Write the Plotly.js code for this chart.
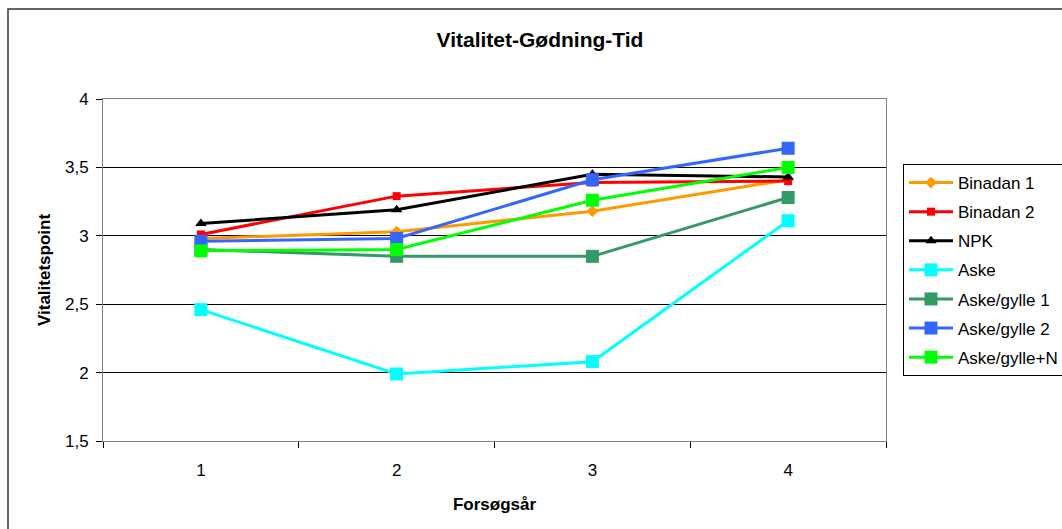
<!DOCTYPE html>
<html>
<head>
<meta charset="utf-8">
<script src="https://cdn.plot.ly/plotly-3.0.1.min.js"></script>
<style>
  html, body { margin: 0; padding: 0; background: #fff; }
  #chart { width: 1062px; height: 529px; }
</style>
</head>
<body>
<div id="chart"></div>
<script>
// Forsøgsår (trial years) on the category axis
const years = [1, 2, 3, 4];

// Vitalitetspoint per treatment
const binadan1 = [2.98, 3.03, 3.18, 3.41];
const binadan2 = [3.01, 3.29, 3.39, 3.40];
const npk = [3.09, 3.19, 3.45, 3.43];
const aske = [2.46, 1.99, 2.08, 3.11];
const askeGylle1 = [2.90, 2.85, 2.85, 3.28];
const askeGylle2 = [2.96, 2.98, 3.41, 3.64];
const askeGylleN = [2.89, 2.90, 3.26, 3.50];

const seriesNames = ['Binadan 1', 'Binadan 2', 'NPK', 'Aske', 'Aske/gylle 1', 'Aske/gylle 2', 'Aske/gylle+N'];
const yTickVals = [1.5, 2, 2.5, 3, 3.5, 4];
const yTickText = ['1,5', '2', '2,5', '3', '3,5', '4'];

const styles = [
  { color: '#FF9900', symbol: 'diamond', size: 9 },
  { color: '#FF0000', symbol: 'square', size: 8 },
  { color: '#000000', symbol: 'triangle-up', size: 10 },
  { color: '#00FFFF', symbol: 'square', size: 13 },
  { color: '#339966', symbol: 'square', size: 13 },
  { color: '#3366FF', symbol: 'square', size: 13 },
  { color: '#00FF00', symbol: 'square', size: 13 }
];

const values = [binadan1, binadan2, npk, aske, askeGylle1, askeGylle2, askeGylleN];

const traces = values.map((v, i) => ({
  type: 'scatter',
  mode: 'lines+markers',
  name: seriesNames[i],
  legendgroup: 'g' + i,
  x: years,
  y: v,
  line: { color: styles[i].color, width: 3 },
  marker: { color: styles[i].color, symbol: styles[i].symbol, size: styles[i].size, line: { width: 0 } }
}));

// plot area: x 103..886, y 99..441
const L = 103, R = 886, T = 99, B = 441;
const pw = R - L, ph = B - T;
const px = v => (v - L) / pw;
const py = v => (B - v) / ph;

const layout = {
  width: 1062,
  height: 529,
  margin: { l: L, r: 1062 - R, t: T, b: 529 - B, autoexpand: false },
  paper_bgcolor: '#ffffff',
  plot_bgcolor: '#ffffff',
  font: { family: 'Liberation Sans, Arial, sans-serif', size: 17, color: '#000' },
  separators: ', ',
  title: {
    text: '<b>Vitalitet-Gødning-Tid</b>',
    font: { size: 21, color: '#000' },
    x: 540 / 1062, xanchor: 'center', xref: 'container',
    y: 1 - 40 / 529, yanchor: 'middle', yref: 'container'
  },
  xaxis: {
    range: [0.5, 4.5],
    tickmode: 'array',
    tickvals: years,
    ticktext: years.map(String),
    ticks: '',
    minor: { tickmode: 'linear', tick0: 0.5, dtick: 1, ticks: 'outside', ticklen: 6, tickcolor: '#000', showgrid: false },
    ticklabelstandoff: 14,
    showgrid: false,
    zeroline: false,
    showline: true,
    linecolor: '#808080',
    linewidth: 1,
    mirror: true,
    tickfont: { size: 17 },
    title: { text: '<b>Forsøgsår</b>', font: { size: 17 }, standoff: 18 },
    fixedrange: true
  },
  yaxis: {
    range: [1.5, 4],
    tickmode: 'array',
    tickvals: yTickVals,
    ticktext: yTickText,
    ticks: 'outside',
    ticklen: 6,
    tickcolor: '#000',
    ticklabelstandoff: 4,
    showgrid: true,
    gridcolor: '#000000',
    gridwidth: 1,
    zeroline: false,
    showline: true,
    linecolor: '#808080',
    linewidth: 1,
    mirror: true,
    tickfont: { size: 17 },
    title: { text: '<b>Vitalitetspoint</b>', font: { size: 17 }, standoff: 10 },
    fixedrange: true
  },
  legend: {
    x: px(903), xanchor: 'left',
    y: py(164), yanchor: 'top',
    bordercolor: '#000',
    borderwidth: 1,
    bgcolor: '#fff',
    font: { size: 17 },
    itemwidth: 44,
    tracegroupgap: 4,
    traceorder: 'grouped'
  },
  shapes: [
    {
      type: 'rect', xref: 'paper', yref: 'paper',
      x0: px(8), x1: px(1100), y0: py(600), y1: py(9),
      line: { color: '#333333', width: 1.5 },
      fillcolor: 'rgba(0,0,0,0)',
      layer: 'below'
    }
  ],
  showlegend: true
};

Plotly.newPlot('chart', traces, layout, { displayModeBar: false, staticPlot: true });
</script>
</body>
</html>
